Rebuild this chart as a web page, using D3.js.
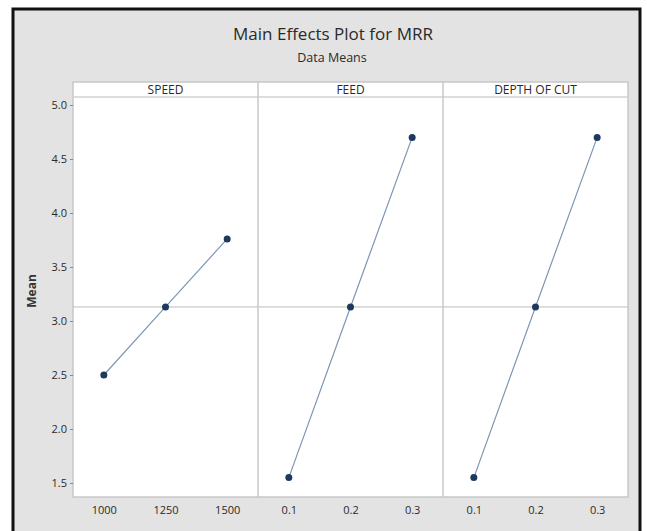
<!DOCTYPE html>
<html><head><meta charset="utf-8">
<script src="https://cdn.jsdelivr.net/npm/d3@7"></script>
<style>body{margin:0;background:#fff}svg{display:block}text{font-family:"Open Sans","Noto Sans",sans-serif}</style>
</head><body><svg id="c" width="647" height="531"></svg>
<script>
const factors = ["SPEED", "FEED", "DEPTH OF CUT"];
const speedLevels = ["1000", "1250", "1500"];
const feedLevels = ["0.1", "0.2", "0.3"];
const depthLevels = ["0.1", "0.2", "0.3"];
const speedMeans = [2.50, 3.13, 3.76];
const feedMeans = [1.55, 3.13, 4.70];
const depthMeans = [1.55, 3.13, 4.70];
const grandMean = 3.13;
const yTicks = [1.5, 2.0, 2.5, 3.0, 3.5, 4.0, 4.5, 5.0];

const levels = [speedLevels, feedLevels, depthLevels];
const means = [speedMeans, feedMeans, depthMeans];

const svg = d3.select("#c");
svg.append("rect").attr("x",0).attr("y",0).attr("width",647).attr("height",531).attr("fill","#fff");
svg.append("rect").attr("x",13).attr("y",9).attr("width",627).attr("height",530)
  .attr("fill","#e3e3e3").attr("stroke","#111").attr("stroke-width",3);

const L = 73, R = 628, T = 97, B = 497, ST = 82;
const pw = (R - L) / 3;
const y = d3.scaleLinear().domain([1.5, 5.0]).range([483, 105]);

svg.append("text").attr("x",333).attr("y",40).attr("text-anchor","middle")
  .attr("font-size",17).attr("fill","#2a2a2a").text("Main Effects Plot for MRR");
svg.append("text").attr("x",332).attr("y",62).attr("text-anchor","middle")
  .attr("font-size",12.5).attr("fill","#2a2a2a").text("Data Means");

// plot background
svg.append("rect").attr("x",L).attr("y",ST).attr("width",R-L).attr("height",B-ST)
  .attr("fill","#fff").attr("stroke","#c8c8c8").attr("stroke-width",1.5);
svg.append("line").attr("x1",L).attr("x2",R).attr("y1",T).attr("y2",T)
  .attr("stroke","#d2d2d2").attr("stroke-width",1.5);

// y axis
const yAxis = d3.axisLeft(y).tickValues(yTicks).tickFormat(d3.format(".1f")).tickSize(3).tickPadding(3);
const ya = svg.append("g").attr("transform",`translate(${L},0)`).call(yAxis);
ya.select(".domain").remove();
ya.selectAll(".tick line").attr("stroke","#888");
ya.selectAll(".tick text").attr("font-size",11).attr("fill","#2a2a2a")
  .attr("font-family","'Open Sans',sans-serif");

svg.append("text").attr("transform","translate(36,291) rotate(-90)").attr("text-anchor","middle")
  .attr("font-size",12).attr("font-weight","bold").attr("fill","#333").text("Mean");

// grand mean reference line
svg.append("line").attr("x1",L).attr("x2",R).attr("y1",y(grandMean)).attr("y2",y(grandMean))
  .attr("stroke","#bdbdbd").attr("stroke-width",1);

factors.forEach((f, i) => {
  const x0 = L + i * pw, x1 = x0 + pw;
  const x = d3.scalePoint().domain(levels[i]).range([x0, x1]).padding(0.5);
  if (i > 0) {
    svg.append("line").attr("x1",x0).attr("x2",x0).attr("y1",ST).attr("y2",B)
      .attr("stroke","#c8c8c8").attr("stroke-width",1.5);
  }
  svg.append("text").attr("x",(x0+x1)/2).attr("y",94).attr("text-anchor","middle")
    .attr("font-size",12).attr("fill","#2a2a2a").text(f);
  const xa = svg.append("g").attr("transform",`translate(0,${B})`)
    .call(d3.axisBottom(x).tickSize(0).tickPadding(9));
  xa.select(".domain").remove();
  xa.selectAll(".tick text").attr("font-size",11).attr("fill","#2a2a2a")
    .attr("font-family","'Open Sans',sans-serif");
  const data = levels[i].map((l, k) => ({l, v: means[i][k]}));
  svg.append("path").datum(data)
    .attr("d", d3.line().x(d => x(d.l)).y(d => y(d.v)))
    .attr("fill","none").attr("stroke","#7d96b3").attr("stroke-width",1.2);
  svg.selectAll(null).data(data).enter().append("circle")
    .attr("cx", d => x(d.l)).attr("cy", d => y(d.v)).attr("r",3.5).attr("fill","#1d3a5e");
});
</script></body></html>
